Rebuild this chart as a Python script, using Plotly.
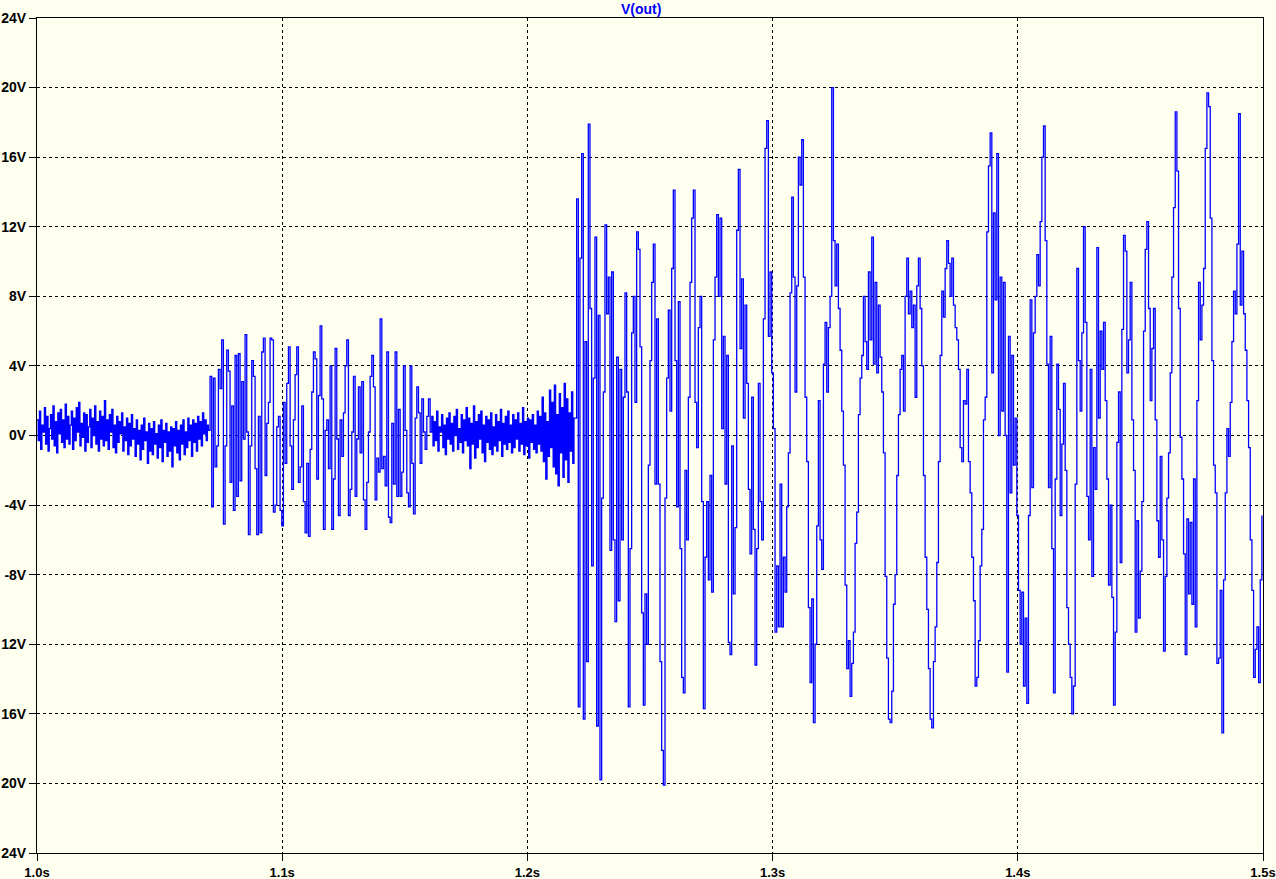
import plotly.graph_objects as go

# ---------------- data ----------------
# times in milliseconds, voltages in volts
noise_a_start_ms = 1000.0
noise_a_step_ms = 0.5
noise_a = [0.9, -0.3, 1.4, -0.8, 0.6, 0.2, 1.6, -0.5, 1.1, -0.9,
           0.4, 1.2, -0.2, 1.7, -0.6, 0.8, -1.0, 1.3, 0.1, 1.5,
           -0.4, 0.9, -0.7, 1.8, -0.2, 1.1, -0.5, 0.6, 1.4, -0.8,
           1.0, -0.3, 1.6, 0.2, 1.9, -0.6, 0.7, -0.1, 1.3, -0.9,
           1.2, -0.4, 0.5, 1.5, -0.7, 1.0, 0.0, 1.7, -0.5, 0.8,
           -0.9, 1.4, -0.2, 1.1, -0.6, 2.0, -0.3, 0.9, -0.8, 1.2,
           0.2, 1.5, -0.7, 0.6, -1.0, 1.1, -0.4, 0.8, 0.1, 1.3,
           -0.9, 0.5, -0.3, 1.0, -1.1, 0.7, -0.6, 1.2, -0.2, 0.4,
           -1.2, 0.9, -0.5, 0.3, -1.4, 0.6, -0.8, 1.0, -0.3, 0.2,
           -1.6, 0.7, -0.9, 0.4, -1.1, 0.8, -0.5, 0.1, -1.3, 0.6,
           -0.7, 0.9, -1.5, 0.3, -0.4, 0.7, -1.2, 0.2, -0.9, 0.5,
           -1.8, 0.4, -0.6, 0.8, -1.0, 0.3, -1.4, 0.6, -0.5, 0.9,
           -1.1, 0.2, -0.7, 1.0, -0.3, 0.6, -1.2, 0.9, -0.4, 0.7,
           -0.9, 1.1, -0.2, 0.8, -0.6, 1.3, 0.1, 0.9, -0.3, 0.6]

burst_b_start_ms = 1069.9
burst_b_step_ms = 0.68
burst_b = [0.3, 3.4, -4.1, 3.3, -1.8, -0.6, 3.8, 2.7, 5.5, -5.1,
           -0.6, 4.9, 3.7, -2.7, 1.7, -4.3, 4.6, -3.5, 4.7, -2.6,
           3.1, -0.2, 5.8, 0.2, -5.7, -0.6, 4.3, 3.4, -1.9, -5.7,
           1.1, -5.6, 4.8, 5.6, -2.3, 0.7, 1.9, 5.6, 5.5, -4.4,
           -4.0, 0.5, 1.1, -4.3, -5.2, 1.9, -1.6, 3.0, 5.1, -0.6,
           -3.1, 0.9, 3.5, 5.1, -2.7, -1.8, 1.7, -3.8, -5.6, -1.6,
           -5.8, -0.8, 2.5, 4.8, 4.4, -2.5, 2.3, 6.3, 2.1, -5.4,
           0.3, 0.9, -1.9, 4.0, -5.4, -2.5, 5.0, -0.2, -4.6, 0.9,
           -1.2, 1.3, 4.0, 5.5, -4.6, -3.1, 0.2, 3.4, -3.5, -0.2,
           2.8, -1.0, 3.1, -3.7, -5.4, -2.7, 0.2, 3.4, 4.6, 2.8,
           -3.7, -1.3, -2.1, 6.7, -1.9, -1.2, -2.9, 4.8, -4.7, -5.0,
           0.7, -2.8, 4.8, -3.5, 1.5, -3.5, -2.1, 4.0, 0.3, -3.3,
           -4.1, 4.0, -1.6, -4.5, 1.0, 2.8, 1.3, -1.6, 2.1, 0.2,
           -0.8, 1.1, 2.1, 0.2]

noise_c_start_ms = 1161.0
noise_c_step_ms = 0.5
noise_c = [1.1, -0.6, 0.8, -0.3, 1.4, -0.9, 0.5, 0.2, 1.2, -0.7,
           0.6, -1.1, 1.0, -0.2, 1.3, -0.5, 0.7, -0.9, 1.1, 0.0,
           1.5, -0.8, 0.4, -0.4, 1.2, -1.0, 0.9, -0.3, 1.6, -0.6,
           1.0, -1.9, 0.7, -0.5, 1.7, -1.3, 0.8, -0.7, 1.2, -0.2,
           1.4, -1.0, 0.6, -1.5, 1.1, -0.4, 0.9, -0.8, 1.3, -1.1,
           0.5, -0.6, 1.2, -0.9, 0.8, -0.3, 1.5, -1.2, 0.7, -0.5,
           1.1, -0.8, 1.4, -0.4, 0.6, -1.0, 1.2, -0.7, 0.9, -0.2,
           1.3, -0.9, 0.7, -0.5, 1.6, -1.1, 0.8, -0.6, 1.0, -1.3,
           0.9, -0.4, 1.2, -0.8, 0.6, -1.0, 1.4, -0.5, 1.1, -0.9,
           2.2, -1.5, 1.3, -2.5, 0.8, -1.2, 2.6, -0.7, 1.9, -1.8,
           2.9, -2.2, 1.2, -2.9, 2.4, -1.0, 1.6, -2.4, 3.0, -1.4,
           2.1, -2.7, 1.3, -0.9, 2.5, -1.6, 1.0]

swing_d_start_ms = 1219.4
swing_d_step_ms = 0.68
swing_d = [
    # 1.219 .. 1.284 s
    1.0, 13.6, -15.6, 10.2, 16.2, -16.3, 5.4, -13.0, 17.9, 7.3,
    -7.5, 3.3, 11.4, -16.7, 6.9, -19.8, -3.6, 2.5, 12.1, 7.0,
    9.1, -6.6, 9.4, -6.0, -10.7, 4.5, -9.5, 3.8, -6.0, 2.2,
    8.2, 2.5, -15.6, -6.5, 5.9, 8.0, 1.9, 11.7, 10.7, 5.1,
    -10.2, -15.5, -9.1, -12.0, -1.7, 4.3, 8.8, 11.0,
    -2.8, 6.7, -2.8, -13.0, -18.1, -20.1, -3.6, 3.3, 7.2, 1.4,
    9.6, 14.1, 4.3, -4.1, 7.7, -6.5, -13.9, -14.8, -2.0, -6.0,
    2.2, 8.8, 12.5, 14.1, 1.9, -0.7, 6.2, 8.0, -3.8, -15.7,
    -7.0, -3.8, -8.3, -2.3, -9.0, 5.5, 9.1, 12.7, 8.0, 12.5,
    0.4, 5.7, -2.8, 4.6, -11.9, -12.6, -0.6, -9.1,
    # 1.285 .. 1.357 s
    -5.3, 11.8, 15.3, 5.0, 9.0, 1.0, 7.5, 3.0, -3.1, -6.8,
    2.2, -5.4, -13.2, -6.5, 3.0, -3.8, -6.0, 6.7, 16.5, 18.1,
    5.7, 9.4, 3.6, 0.4, -11.3, -7.5, -11.0, -2.8, -11.0, -7.0,
    -9.0, -4.1, -1.0, 8.2, 13.7, 9.1, 2.5, 8.6, 16.0, 14.4,
    17.0, 9.1, 2.2, -1.5, -9.9, -14.2, -9.4, -16.5, -12.0, -5.2,
    2.0, -6.0, -7.7, 4.1, 6.5, 2.5, 6.2, 8.0, 20.0, 11.2,
    8.6, 11.0, 7.3, 4.9, 1.4, -1.7, -8.6, -13.4, -11.8, -15.0,
    -13.1, -11.3, -6.2, -4.4, 1.2, 3.3, 4.6, 8.0, 5.4, 3.8,
    9.4, 5.5, 11.4, 4.1, 8.8, 3.6, 7.5, 4.5, 2.5, -1.0,
    -8.1, -12.8, -16.3, -16.5, -14.7, -9.7, -8.0, -2.3, 1.2, 3.8,
    4.6, 1.4, 8.0, 10.2, 7.0, 8.3, 6.2, 7.5,
    # 1.358 .. 1.427 s
    2.2, 8.6, 10.2, 7.3, 4.0, -2.3, -7.0, -10.0, -13.4, -16.3,
    -16.8, -13.0, -11.0, -7.3, -1.5, 4.6, 8.3, 6.8, 9.6, 11.2,
    9.9, 8.0, 10.2, 7.5, 6.2, 5.5, 3.8, -0.7, -1.5, 2.0,
    1.8, 3.8, -1.5, -3.3, -7.0, -9.5, -14.4, -13.9, -11.8, -7.5,
    -5.4, 0.9, 2.2, 11.7, 15.5, 17.4, 3.6, 12.8, 7.8, 16.2,
    0.0, 9.1, 1.4, 8.8, 0.0, -13.6, 5.7, -3.3, 4.6, -1.7,
    1.0, -4.6, -8.9, -12.0, -9.0, -14.4, -10.5, -15.4, -4.6, 7.8,
    -3.0, 5.9, 8.0, 10.4, 8.6, 12.3, 16.0, 17.8, 11.2, 4.1,
    -3.0, 5.7, -6.5, -14.8, -2.5, 4.1, 1.5, -4.6, -0.5, 3.0,
    -2.0, -9.9, -12.0, -13.9, -16.0, -14.4, -2.8, 9.6, 4.3, 1.4,
    5.9, 12.0,
    # 1.428 .. 1.500 s
    6.5, -3.5, -6.0, 3.8, -8.1, -0.7, -3.1, 10.8, 1.0, 6.0,
    3.8, 6.5, 2.0, -2.5, -8.6, -4.0, -9.3, -15.5, -11.3, -0.4,
    2.5, -7.3, 6.1, 11.5, 10.6, 3.6, 5.5, 8.8, 0.9, -2.0,
    -11.3, -4.9, -10.5, -7.8, -3.8, 6.0, 10.7, 12.3, 7.3, 2.0,
    5.0, 7.3, 0.9, -4.9, -7.0, -1.2, -6.0, -12.4, -8.1, -3.6,
    -1.0, 3.6, 9.1, 13.1, 18.6, 15.2, 7.3, -0.1, -2.5, -6.8,
    -12.6, -4.8, -9.1, -5.0, -9.7, -2.5, -11.0, 2.0, 8.8, 5.5,
    7.5, 9.6, 16.5, 19.7, 18.9, 12.5, 4.3, -1.7, -3.3, -13.1,
    -12.8, -8.9, -17.1, -8.3, -3.3, 0.4, -1.2, 1.9, 5.4, 8.3,
    7.0, 11.0, 18.5, 7.5, 10.6, 7.0, 4.9, 2.0, -0.7, -6.0,
    -8.9, -13.9, -12.3, -11.0, -14.2, -8.3, -4.6,
]

y_tick_values = [24, 20, 16, 12, 8, 4, 0, -4, -8, -12, -16, -20, -24]
y_tick_labels = ["24V", "20V", "16V", "12V", "8V", "4V", "0V",
                 "-4V", "-8V", "12V", "16V", "20V", "24V"]
x_tick_values = [1.0, 1.1, 1.2, 1.3, 1.4, 1.5]
x_tick_labels = ["1.0s", "1.1s", "1.2s", "1.3s", "1.4s", "1.5s"]
trace_name = "V(out)"

# ---------------- build series ----------------
t_s = []
v = []
for start, step, vals in [
    (noise_a_start_ms, noise_a_step_ms, noise_a),
    (burst_b_start_ms, burst_b_step_ms, burst_b),
    (noise_c_start_ms, noise_c_step_ms, noise_c),
    (swing_d_start_ms, swing_d_step_ms, swing_d),
]:
    for i, val in enumerate(vals):
        t_s.append((start + i * step) / 1000.0)
        v.append(val)

BG = "#FFFFF0"

fig = go.Figure()
fig.add_trace(go.Scatter(x=t_s, y=v, mode="lines", name=trace_name,
                         line=dict(color="#0000FF", width=1.3, shape="hv"),
                         showlegend=False))

axis_common = dict(
    showgrid=True, gridcolor="black", gridwidth=1, griddash="3px,3px",
    zeroline=False, showline=True, mirror=True, linecolor="black", linewidth=1,
    ticks="outside", ticklen=7, tickcolor="black", tickwidth=1,
    automargin=False, ticklabeloverflow="allow",
)

fig.update_xaxes(range=[1.0, 1.5], tickvals=x_tick_values, ticktext=x_tick_labels,
                 tickfont=dict(family="Liberation Sans", size=13, color="black",
                               weight="bold"),
                 ticklabelstandoff=0,
                 **axis_common)
fig.update_yaxes(range=[-24, 24], tickvals=y_tick_values, ticktext=y_tick_labels,
                 tickfont=dict(family="Liberation Sans", size=14, color="black",
                               weight="bold"),
                 **axis_common)

fig.add_annotation(text=trace_name, xref="paper", yref="paper", x=0.4927, y=1.0,
                   xanchor="center", yanchor="bottom", showarrow=False, yshift=-1,
                   font=dict(family="Liberation Sans", size=14, color="#0000FF",
                             weight="bold"))

fig.update_layout(
    width=1276, height=879,
    margin=dict(l=37, r=13, t=18, b=26, autoexpand=False),
    paper_bgcolor=BG, plot_bgcolor=BG,
    showlegend=False,
)

fig.write_html("out.html",
               config={"displayModeBar": False},
               post_script="document.body.style.margin='0px';"
                           "document.body.style.overflow='hidden';")
